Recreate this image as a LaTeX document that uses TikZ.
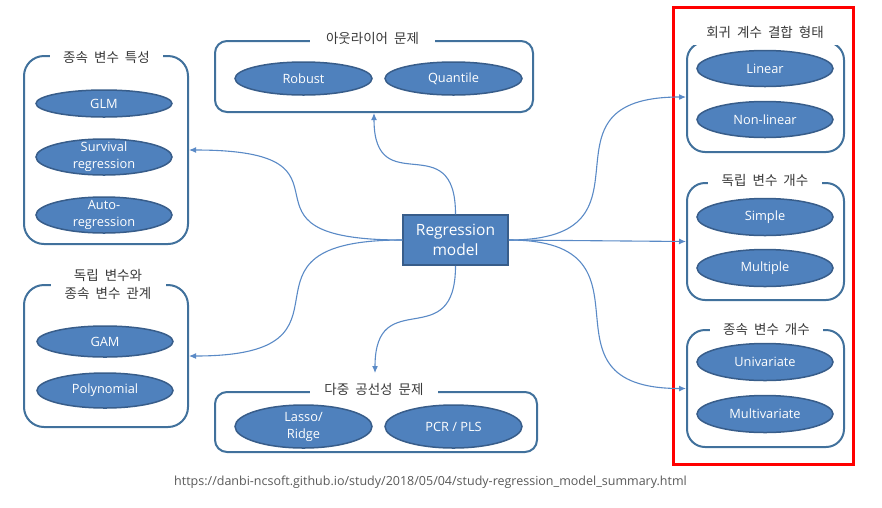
\documentclass[tikz,border=0pt]{standalone}
\usepackage{fontspec}
\setmainfont{Open Sans}
\newfontfamily\kr[WordSpace=2.0]{Noto Sans CJK KR}
\usetikzlibrary{shapes.geometric,arrows.meta}
\definecolor{boxline}{HTML}{41719C}
\definecolor{ellfill}{HTML}{4F81BD}
\definecolor{ellline}{HTML}{385D8A}
\definecolor{edgec}{HTML}{5A8AC6}
\definecolor{titlec}{HTML}{3A3A3A}
\definecolor{urlc}{HTML}{595959}
\definecolor{redc}{HTML}{FF0000}
\begin{document}
\begin{tikzpicture}[x=1pt,y=-1pt,
  grp/.style={draw=boxline, line width=2pt, rounded corners=#1, inner sep=0pt},
  ell/.style={ellipse, draw=ellline, line width=1.5pt, fill=ellfill, text=white,
    inner xsep=-40pt, inner ysep=-20pt, minimum width=136pt, align=center,
    font=\fontsize{12.8}{17}\selectfont},
  ttl/.style={fill=white, text=titlec, inner ysep=2pt, align=center,
    font=\kr\fontsize{13.5}{17.5}\selectfont},
  edge/.style={draw=edgec, line width=1.1pt, -{Latex[length=7pt,width=6pt]}}]
\useasboundingbox (0,0) rectangle (882,507);

% group boxes
\node[grp=20, minimum width=164pt, minimum height=188pt] (b1) at (106,150) {};
\node[grp=20, minimum width=164pt, minimum height=142pt] (b2) at (106,356) {};
\node[grp=12, minimum width=318pt, minimum height=71pt] (b3) at (374,76.5) {};
\node[grp=12, minimum width=322pt, minimum height=60pt] (b4) at (376,422) {};
\node[grp=18, minimum width=157pt, minimum height=110pt] (b5) at (765.5,97) {};
\node[grp=18, minimum width=157pt, minimum height=117pt] (b6) at (765.5,241.5) {};
\node[grp=18, minimum width=157pt, minimum height=117pt] (b7) at (765.5,388.5) {};

% titles
\node[ttl, minimum width=113pt] (t1) at (106.5,57) {종속 변수 특성};
\node[ttl, minimum width=115pt] (t2) at (108,284.5) {독립 변수와\\종속 변수 관계};
\node[ttl, minimum width=125pt] (t3) at (372.5,38) {아웃라이어 문제};
\node[ttl, minimum width=128pt] (t4) at (374,389) {다중 공선성 문제};
\node[ttl, minimum width=146pt, minimum height=26pt] (t5) at (765,32) {회귀 계수 결합 형태};
\node[ttl, minimum width=114pt] (t6) at (765,180) {독립 변수 개수};
\node[ttl, minimum width=113pt] (t7) at (766.5,329) {종속 변수 개수};

% ellipses
\node[ell, minimum height=27pt] (glm) at (104,103.5) {GLM};
\node[ell, minimum height=36pt] (surv) at (104,157) {Survival\\regression};
\node[ell, minimum height=36pt] (auto) at (104,215) {Auto-\\regression};
\node[ell, minimum height=31pt] (gam) at (105,341.5) {GAM};
\node[ell, minimum height=35pt] (poly) at (105,390.5) {Polynomial};
\node[ell, minimum width=137pt, minimum height=33pt] (rob) at (303.5,78.5) {Robust};
\node[ell, minimum width=137pt, minimum height=33pt] (quan) at (453.5,78.5) {Quantile};
\node[ell, minimum width=137pt, minimum height=43pt] (lasso) at (303.5,426.5) {Lasso/\\Ridge};
\node[ell, minimum width=137pt, minimum height=43pt] (pcr) at (453.5,426.5) {PCR / PLS};
\node[ell, minimum height=36pt] (lin) at (765,68.5) {Linear};
\node[ell, minimum height=36pt] (nlin) at (765,119.5) {Non-linear};
\node[ell, minimum height=37pt] (simp) at (765,217) {Simple};
\node[ell, minimum height=37pt] (mult) at (765,268) {Multiple};
\node[ell, minimum height=37pt] (univ) at (765,362) {Univariate};
\node[ell, minimum height=37pt] (multv) at (765,414) {Multivariate};

% central node
\node[draw=ellline, line width=1.5pt, fill=ellfill, text=white, minimum width=105pt,
  minimum height=50pt, inner sep=0pt, align=center,
  font=\fontsize{15.5}{20}\selectfont] (reg) at (455.5,240) {Regression\\model};

% red frame
\draw[redc, line width=3pt] (673.5,7.5) rectangle (853.5,464.5);

% connectors
\coordinate (c4) at (375,373);
\draw[edge] (reg.west) .. controls +(-190,0) and +(190,0) .. (b1.east);
\draw[edge] (reg.west) .. controls +(-190,0) and +(190,0) .. (b2.east);
\draw[edge] (reg.north) .. controls +(0,-90) and +(0,90) .. (b3.south);
\draw[edge] (reg.south) .. controls +(0,90) and +(0,-90) .. (c4);
\draw[edge] (reg.east) .. controls +(160,0) and +(-160,0) .. (b5.west);
\draw[edge] (reg.east) -- (b6.west);
\draw[edge] (reg.east) .. controls +(160,0) and +(-160,0) .. (b7.west);

% source
\node[text=urlc, font=\fontsize{12.5}{14}\selectfont, inner sep=0pt] (url) at (430.5,482.5)
  {https://danbi-ncsoft.github.io/study/2018/05/04/study-regression\_model\_summary.html};
\end{tikzpicture}
\end{document}
